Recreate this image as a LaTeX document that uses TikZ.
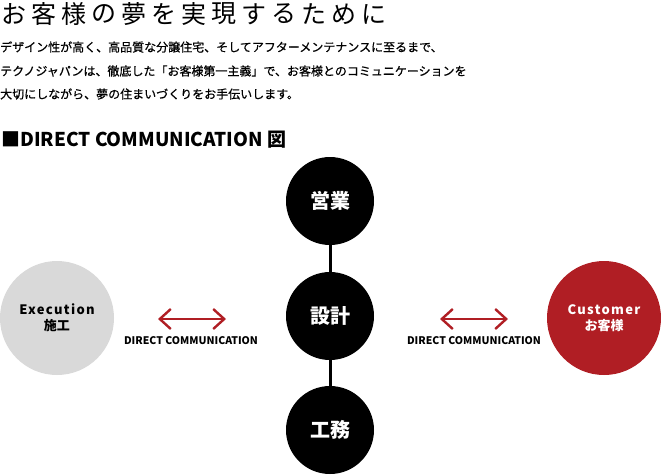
\documentclass[tikz,border=0pt]{standalone}
\usepackage{fontspec}
\setmainfont{Noto Sans CJK JP}
\usetikzlibrary{arrows.meta}

\definecolor{custred}{RGB}{176,30,36}
\definecolor{execgray}{RGB}{217,217,217}

\tikzset{
  titlechar/.style={inner sep=0pt,font=\fontsize{25}{25}\selectfont},
  bodyline/.style={anchor=west,inner sep=0pt,
    font=\fontsize{12}{12}\selectfont\addfontfeature{FakeBold=0.6}},
  dept/.style={circle,fill=black,minimum size=88pt,inner sep=0pt,text=white,
    font=\bfseries\fontsize{20}{22}\selectfont},
  party/.style={circle,minimum size=114pt,inner sep=0pt,align=center,
    font=\bfseries\fontsize{13}{16}\selectfont},
  dcarrow/.style={custred,line width=2.4pt,
    {Straight Barb[length=11pt,width=20pt]}-{Straight Barb[length=11pt,width=20pt]}},
  dclabel/.style={inner sep=0pt,font=\bfseries\fontsize{10.5}{12}\selectfont},
}

\begin{document}
\begin{tikzpicture}[x=1pt,y=-1pt]
\useasboundingbox (0,0) rectangle (661,475);

% title, one character at a time
\foreach \ch [count=\i from 0] in {お,客,様,の,夢,を,実,現,す,る,た,め,に}
  \node[titlechar] (title\i) at (14+30*\i,14) {\ch};

% introduction
\node[bodyline] (intro1) at (0,47) {デザイン性が高く、高品質な分譲住宅、そしてアフターメンテナンスに至るまで、};
\node[bodyline] (intro2) at (0,71) {テクノジャパンは、徹底した「お客様第一主義」で、お客様とのコミュニケーションを};
\node[bodyline] (intro3) at (0,94) {大切にしながら、夢の住まいづくりをお手伝いします。};

% heading
\node[anchor=west,inner sep=0pt,font=\bfseries\fontsize{19}{19}\selectfont] (heading) at (1,140)
  {■DIRECT COMMUNICATION 図};

% the three departments
\node[dept] (eigyo)  at (330,201) {営業};
\node[dept] (sekkei) at (330,316) {設計};
\node[dept] (koumu)  at (330,430) {工務};
\draw[line width=3pt] (eigyo) -- (sekkei);
\draw[line width=3pt] (sekkei) -- (koumu);

% execution and customer
\node[party,fill=execgray] (execution) at (57,318)
  {{\addfontfeature{LetterSpace=10}Execution}\\施工};
\node[party,fill=custred,text=white] (customer) at (604,318)
  {{\addfontfeature{LetterSpace=10}Customer}\\お客様};

% direct communication arrows
\coordinate (leftA)  at (158,319);
\coordinate (leftB)  at (226,319);
\coordinate (rightA) at (440,319);
\coordinate (rightB) at (508,319);
\draw[dcarrow] (leftA) -- (leftB);
\draw[dcarrow] (rightA) -- (rightB);
\node[dclabel] (leftlabel)  at (191,341) {DIRECT COMMUNICATION};
\node[dclabel] (rightlabel) at (474,341) {DIRECT COMMUNICATION};

\end{tikzpicture}
\end{document}
